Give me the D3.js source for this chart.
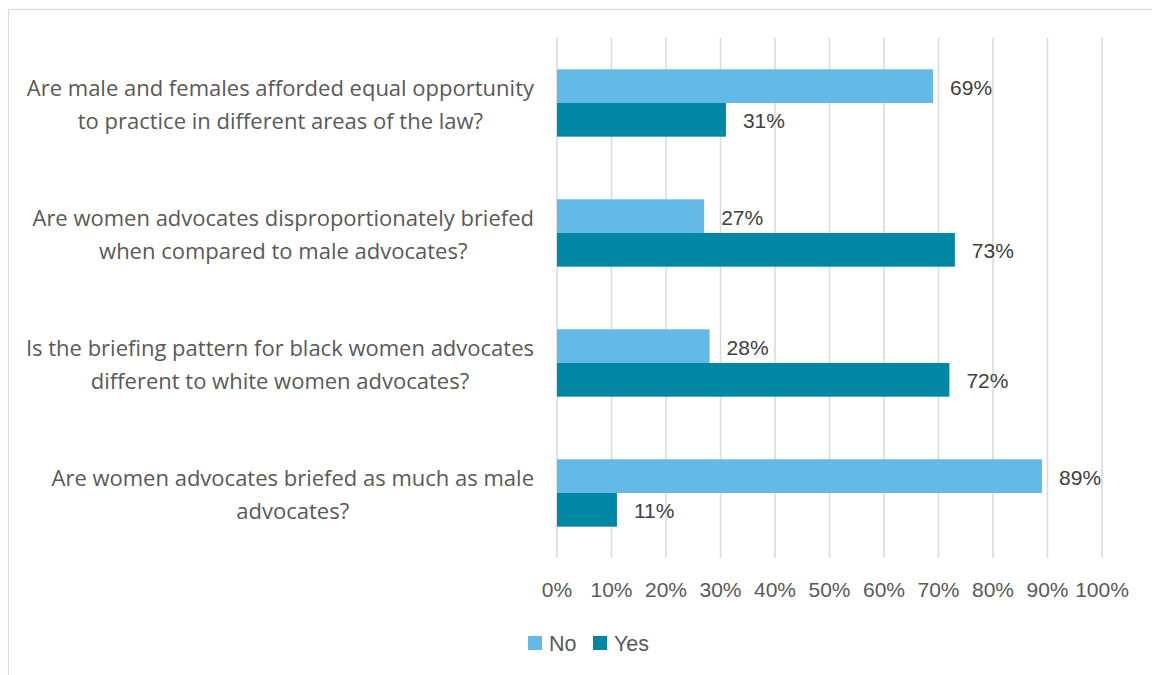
<!DOCTYPE html>
<html>
<head>
<meta charset="utf-8">
<script src="https://cdn.jsdelivr.net/npm/d3@7"></script>
<style>
  html, body { margin: 0; padding: 0; background: #ffffff; }
  svg { display: block; font-family: "Liberation Sans", Arial, sans-serif; }
</style>
</head>
<body>
<svg id="chart" width="1152" height="675"></svg>
<script>
// Survey questions (top to bottom), each split onto two lines
const categories = [
  ["Are male and females afforded equal opportunity", "to practice in different areas of the law?"],
  ["Are women advocates disproportionately briefed", "when compared to male advocates?"],
  ["Is the briefing pattern for black women advocates", "different to white women advocates?"],
  ["Are women advocates briefed as much as male", "advocates?"]
];
const seriesNames = ["No", "Yes"];
const noValues  = [69, 27, 28, 89];
const yesValues = [31, 73, 72, 11];
const tickValues = [0, 10, 20, 30, 40, 50, 60, 70, 80, 90, 100];

const colors = { No: "#63BAE6", Yes: "#0087A3" };

const svg = d3.select("#chart");

// chart frame
svg.append("rect")
  .attr("x", 8.5).attr("y", 9.5)
  .attr("width", 1160).attr("height", 700)
  .attr("fill", "none").attr("stroke", "#d9d9d9").attr("stroke-width", 1.2);

const plot = { left: 557, right: 1102, top: 38, bottom: 558 };

const x = d3.scaleLinear().domain([0, 100]).range([plot.left, plot.right]);
const y = d3.scaleBand().domain(d3.range(categories.length))
  .range([plot.top, plot.bottom]).paddingInner(0).paddingOuter(0);
const inner = d3.scaleBand().domain(seriesNames)
  .range([0, y.bandwidth()]).paddingOuter(0.93).paddingInner(0);

// vertical gridlines
svg.append("g").selectAll("line").data(tickValues).join("line")
  .attr("x1", d => x(d)).attr("x2", d => x(d))
  .attr("y1", plot.top).attr("y2", plot.bottom)
  .attr("stroke", "#d9d9d9").attr("stroke-width", 1.5);

// x tick labels
svg.append("g").selectAll("text").data(tickValues).join("text")
  .attr("x", d => x(d)).attr("y", 597)
  .attr("text-anchor", "middle")
  .attr("font-size", 21).attr("fill", "#595959")
  .text(d => d + "%");

// category labels: centred block whose widest line ends at the label edge
const labelEdge = 534;
const catG = svg.append("g").selectAll("text").data(categories).join("text")
  .attr("text-anchor", "middle")
  .attr("font-family", "'Open Sans', 'Liberation Sans', sans-serif")
  .attr("font-size", 22).attr("fill", "#595959");
catG.each(function(lines, i) {
  const cy = y(i) + y.bandwidth() / 2;
  const t = d3.select(this);
  const spans = t.selectAll("tspan").data(lines).join("tspan")
    .attr("y", (d, j) => cy - 7 + j * 33)
    .text(d => d);
  let maxW = 0;
  spans.each(function() { maxW = Math.max(maxW, this.getComputedTextLength()); });
  spans.attr("x", labelEdge - maxW / 2);
});

// bars + value labels
const rows = categories.map((c, i) => ({ i, No: noValues[i], Yes: yesValues[i] }));
seriesNames.forEach(s => {
  const g = svg.append("g");
  g.selectAll("rect").data(rows).join("rect")
    .attr("x", x(0))
    .attr("y", d => y(d.i) + inner(s))
    .attr("width", d => x(d[s]) - x(0))
    .attr("height", inner.bandwidth())
    .attr("fill", colors[s]);
  g.selectAll("text").data(rows).join("text")
    .attr("x", d => x(d[s]) + 17)
    .attr("y", d => y(d.i) + inner(s) + inner.bandwidth() / 2 + 8.5)
    .attr("font-size", 21).attr("fill", "#404040")
    .text(d => d[s] + "%");
});

// legend
const legend = svg.append("g").attr("transform", "translate(528,643)");
const legendX = { No: 0, Yes: 65 };
seriesNames.forEach(s => {
  const lg = legend.append("g").attr("transform", `translate(${legendX[s]},0)`);
  lg.append("rect").attr("x", 0).attr("y", -7).attr("width", 14).attr("height", 14)
    .attr("fill", colors[s]);
  lg.append("text").attr("x", 21).attr("y", 7.5)
    .attr("font-size", 21.5).attr("fill", "#595959").text(s);
});
</script>
</body>
</html>
